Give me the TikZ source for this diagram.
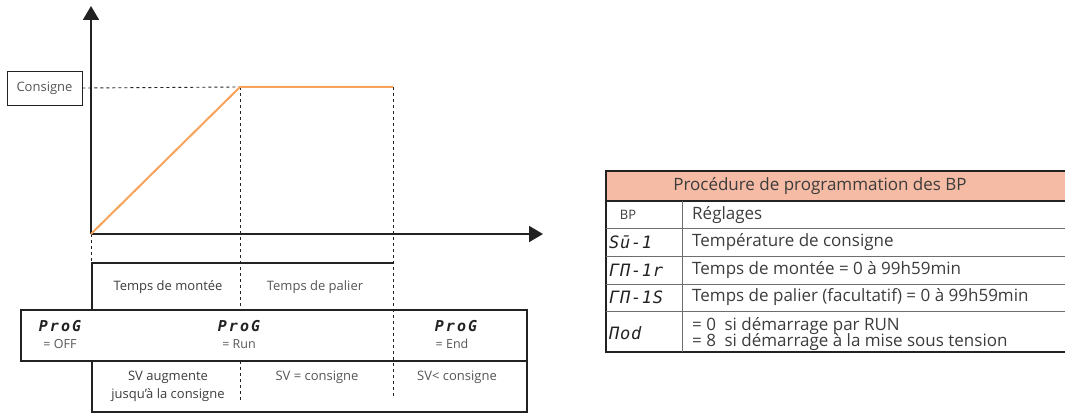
\documentclass[tikz,border=0pt]{standalone}
\usepackage{fontspec}
\setmainfont{Open Sans}
\newfontfamily\segfont[LetterSpace=14]{DejaVu Sans Mono}
\newfontfamily\tsegfont[LetterSpace=4]{DejaVu Sans Mono}
\usetikzlibrary{positioning,arrows.meta}
\definecolor{ramp}{HTML}{F7A35C}
\definecolor{salmon}{HTML}{F5BBA4}
\definecolor{ink}{HTML}{222222}
\definecolor{txt}{HTML}{3C3C3C}
\definecolor{txtlight}{HTML}{555555}
\definecolor{rule}{HTML}{6E6E6E}
\tikzset{
  axis/.style={ink,line width=1.8pt,-{Triangle[length=14pt,width=16pt]}},
  guide/.style={ink,dash pattern=on 3pt off 3pt,line width=0.9pt},
  frame/.style={ink,line width=1.8pt},
  lbl/.style={text=txt,inner sep=0pt,font=\fontsize{13}{15}\selectfont},
  lbllight/.style={lbl,text=txtlight},
  eqlbl/.style={text=txtlight,inner sep=0pt,font=\fontsize{12.5}{14}\selectfont},
  seg/.style={text=ink,inner sep=0pt,font=\segfont\bfseries\itshape\fontsize{15}{15}\selectfont},
  tseg/.style={text=ink,inner sep=0pt,anchor=west,font=\tsegfont\itshape\fontsize{17}{17}\selectfont},
  cell/.style={text=txt,inner sep=0pt,anchor=west,font=\fontsize{17}{19}\selectfont},
  trule/.style={rule,line width=1pt},
}
\begin{document}
\begin{tikzpicture}[x=1pt,y=-1pt]
\useasboundingbox (0,0) rectangle (1067,414);
%% axes and curve
\coordinate (O) at (91,234);
\coordinate (ytop) at (91,6);
\coordinate (xend) at (543,234);
\coordinate (P1) at (240,87);
\coordinate (P2) at (393,87);
\node[draw=ink,line width=0.9pt,minimum width=75pt,minimum height=34pt,inner sep=0pt,
      text=txtlight,font=\fontsize{13}{15}\selectfont] (cons) at (44.5,88) {Consigne};
\draw[guide] (cons.east) -- (P1);
\draw[guide] (O) -- (91,263);
\draw[guide] (P1) -- (240,310);
\draw[guide] (240,361) -- (240,400);
\draw[guide] (P2) -- (393,396);
\draw[axis] (O) -- (ytop);
\draw[axis] (O) -- (xend);
\draw[ramp,line width=2pt,line join=round] (O) -- (P1) -- (P2);
%% boxes under the time axis
\draw[frame] (92,310) -- (92,263) -- (393,263);
\draw[frame] (21,310) rectangle (527,361);
\draw[frame] (92,361) -- (92,412) -- (527,412) -- (527,361);
%% labels
\node[lbl] (tmont) at (168,287) {Temps de montée};
\node[lbllight] (tpal) at (315,287) {Temps de palier};
\node[seg] (progoff) at (60,326) {ProG};
\node[eqlbl] (eqoff) at (60,344) {= OFF};
\node[seg] (progrun) at (239,326) {ProG};
\node[eqlbl] (eqrun) at (239,344) {= Run};
\node[seg] (progend) at (456,326) {ProG};
\node[eqlbl] (eqend) at (452,344) {= End};
\node[lbl] (svup) at (168,377) {SV augmente};
\node[lbl] (svup2) at (168,395) {jusqu’à la consigne};
\node[lbllight] (sveq) at (317,377) {SV = consigne};
\node[lbllight] (svlt) at (457,377) {SV< consigne};
%% table
\fill[salmon] (606,171) rectangle (1065,201);
\draw[ink,line width=1.4pt] (1065,171) -- (606,171) -- (606,352) -- (1065,352);
\draw[ink,line width=1.4pt] (606,201) -- (1065,201);
\foreach \yy in {228,256,284,311}
  \draw[trule] (606,\yy) -- (1065,\yy);
\draw[trule] (682,201) -- (682,352);
\node[text=txt,inner sep=0pt,font=\fontsize{17}{19}\selectfont] (hdr) at (820,186) {Procédure de programmation des BP};
\node[text=txt,inner sep=0pt,font=\fontsize{13}{15}\selectfont] (bp) at (628,215) {BP};
\node[cell] (reg) at (692,215) {Réglages};
\node[tseg] (sv) at (609,242) {Sū-1};
\node[cell] (svtxt) at (692,242) {Température de consigne};
\node[tseg] (rm) at (609,270) {ΓΠ-1r};
\node[cell] (rmtxt) at (692,270) {Temps de montée = 0 à 99h59min};
\node[tseg] (rs) at (609,297) {ΓΠ-1S};
\node[cell] (rstxt) at (692,297) {Temps de palier (facultatif) = 0 à 99h59min};
\node[tseg] (mod) at (609,333) {Πod};
\node[cell] (modtxt) at (692,326) {= 0\hspace{0.5em}si démarrage par RUN};
\node[cell] (modtxt2) at (692,342) {= 8\hspace{0.5em}si démarrage à la mise sous tension};
\end{tikzpicture}
\end{document}
